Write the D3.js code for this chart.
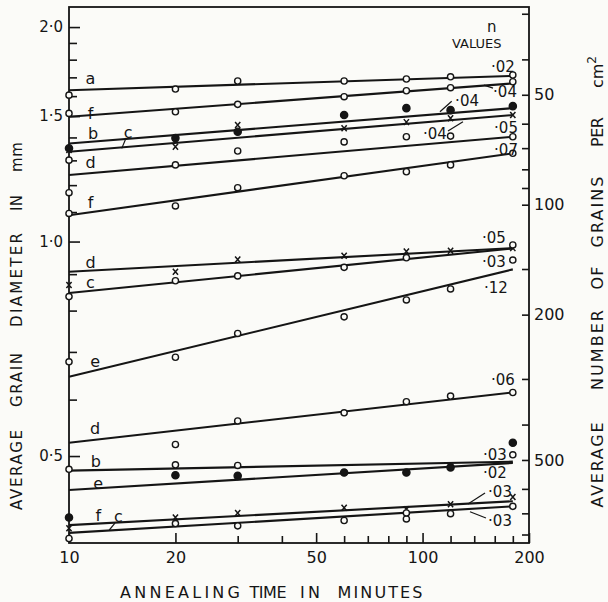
<!DOCTYPE html>
<html>
<head>
<meta charset="utf-8">
<script src="https://cdn.jsdelivr.net/npm/d3@7"></script>
<style>
  html, body { margin: 0; padding: 0; background: #fbfbf8; }
  svg { display: block; }
  text { font-family: 'DejaVu Sans', sans-serif; fill: #151515; }
</style>
</head>
<body>
<div id="viz"></div>
<script>
'use strict';

// Measured grain diameters, [annealing time (min), diameter (mm)]
const ptsA  = [[10, 1.605], [20, 1.637], [30, 1.680], [60, 1.680], [90, 1.691], [120, 1.703], [180, 1.713]];
const ptsF1 = [[10, 1.513], [20, 1.521], [30, 1.558], [60, 1.597], [90, 1.628], [120, 1.644], [180, 1.676]];
const ptsB1 = [[10, 1.352], [20, 1.397], [30, 1.426], [60, 1.505], [90, 1.539], [120, 1.529], [180, 1.549]];
const ptsC1 = [[10, 1.344], [20, 1.358], [30, 1.457], [60, 1.442], [90, 1.471], [120, 1.490], [180, 1.505]];
const ptsD1 = [[10, 1.301], [20, 1.281], [30, 1.340], [60, 1.380], [90, 1.403], [120, 1.406], [180, 1.403]];
const ptsF2 = [[10, 1.171], [10, 1.095], [20, 1.122], [30, 1.190], [60, 1.237], [90, 1.253], [120, 1.281], [180, 1.330]];
const ptsD2 = [[10, 0.869], [20, 0.907], [30, 0.944], [60, 0.955], [90, 0.968], [120, 0.971], [180, 0.979]];
const ptsC2 = [[10, 0.837], [20, 0.881], [30, 0.895], [60, 0.920], [90, 0.949], [180, 0.989]];
const ptsE1 = [[10, 0.678], [20, 0.688], [30, 0.743], [60, 0.784], [90, 0.828], [120, 0.858], [180, 0.942]];
const ptsD3 = [[20, 0.519], [30, 0.560], [60, 0.575], [90, 0.596], [120, 0.607], [180, 0.614]];
const ptsB2 = [[10, 0.479], [20, 0.486], [30, 0.485], [180, 0.502]];
const ptsE2 = [[10, 0.410], [20, 0.470], [30, 0.469], [60, 0.474], [90, 0.474], [120, 0.482], [180, 0.522]];
const ptsF3 = [[10, 0.396], [20, 0.410], [30, 0.416], [60, 0.423], [90, 0.421], [120, 0.428], [180, 0.438]];
const ptsC3 = [[10, 0.383], [20, 0.402], [30, 0.399], [60, 0.406], [90, 0.408], [90, 0.416], [120, 0.415], [180, 0.425]];

const allPts = [ptsA, ptsF1, ptsB1, ptsC1, ptsD1, ptsF2, ptsD2, ptsC2, ptsE1, ptsD3, ptsB2, ptsE2, ptsF3, ptsC3];
const markKind = ['open', 'open', 'filled', 'cross', 'open', 'open', 'cross', 'open', 'open', 'open', 'open', 'filled', 'cross', 'open'];

// fitted straight lines (log-log), diameter at 10 and 180 min
const fitAt10  = [1.631, 1.497, 1.373, 1.337, 1.240, 1.089, 0.907, 0.847, 0.646, 0.522, 0.477, 0.448, 0.400, 0.390];
const fitAt180 = [1.708, 1.667, 1.539, 1.505, 1.403, 1.330, 0.979, 0.978, 0.914, 0.614, 0.491, 0.489, 0.432, 0.425];

// curve letters near the left axis
const letterText = ['a', 'f', 'b', 'c', 'd', 'f', 'd', 'c', 'e', 'd', 'b', 'e', 'f', 'c'];
const letterT = [11.5, 11.5, 11.7, 14.7, 11.5, 11.5, 11.5, 11.5, 11.85, 11.85, 11.9, 12.1, 12.1, 13.8];
const letterD = [1.696, 1.5145, 1.4199, 1.4257, 1.2927, 1.1362, 0.936, 0.8774, 0.6796, 0.5473, 0.492, 0.4583, 0.4133, 0.412];

// n values near the right axis
const nText = ['·02', '·04', '·04', '·04', '·05', '·07', '·05', '·03', '·12', '·06', '·03', '·02', '·03', '·03'];
const nT = [168.8, 171.1, 133.6, 108.4, 172.2, 172.2, 159.2, 159.2, 161.3, 168.8, 160.2, 160.2, 165.6, 165.6];
const nD = [1.759, 1.626, 1.5794, 1.4186, 1.4432, 1.3439, 1.0114, 0.936, 0.8604, 0.6393, 0.5017, 0.4733, 0.4451, 0.4054];
const headText = ['n', 'VALUES'];
const headT = [156.9, 142.3];
const headD = [2.001, 1.897];

// leader strokes [t1, d1, t2, d2]
const leaders = [
  [14.5, 1.397, 14.1, 1.3513],
  [13.49, 0.4024, 13.0, 0.3937],
  [158.2, 1.642, 149.2, 1.658],
  [120.9, 1.5737, 112.0, 1.5209],
  [118.0, 1.4292, 130.1, 1.4729],
  [150.2, 0.4437, 134.4, 0.4282],
  [151.1, 0.4093, 136.2, 0.4177]
];

// axes
const xTicksMajor = [10, 20, 50, 100, 200];
const xTicksMinor = [30, 40, 60, 70, 80, 90, 120, 140, 160, 180];
const yTicksMajor = [0.5, 1.0, 1.5, 2.0];
const yTicksMinor = [0.6, 0.7, 0.8, 0.9, 1.1, 1.2, 1.3, 1.4, 1.6, 1.7, 1.8, 1.9];
const gTicksMajor = [50, 100, 200, 500];
const gTicksMinor = [30, 40, 60, 70, 80, 90, 150, 300, 400, 600, 700, 800];

const ink = '#151515';
const bg = '#fbfbf8';

const svg = d3.select('#viz')
  .append('svg')
    .attr('width', 608)
    .attr('height', 602);

const x = d3.scaleLog().domain([10, 200]).range([69, 529]);
const y = d3.scaleLog().domain([0.3775, 2.134]).range([543, 7]);
const yGrains = d3.scaleLog().domain([844, 28.75]).range([543, 7]);

function styleAxis(g, majors, majorLen, minorLen, sign, horiz) {
  g.select('.domain').remove();
  g.selectAll('.tick line')
    .attr('stroke', ink)
    .attr('stroke-width', 1.6)
    .attr(horiz ? 'y2' : 'x2', d => sign * (majors.includes(d) ? majorLen : minorLen));
  g.selectAll('.tick text')
    .attr('font-family', "'DejaVu Sans', sans-serif")
    .attr('fill', ink);
}

const fmtDot = d => d3.format('.1f')(d).replace('.', '·');

// left axis, grain diameter
const gLeft = svg.append('g')
  .attr('transform', 'translate(69,0)')
  .call(d3.axisLeft(y)
    .tickValues(yTicksMajor.concat(yTicksMinor))
    .tickSize(-7).tickSizeOuter(0).tickPadding(6)
    .tickFormat(d => yTicksMajor.includes(d) ? fmtDot(d) : ''));
styleAxis(gLeft, yTicksMajor, 11, 8, 1, false);
gLeft.selectAll('.tick text').attr('font-size', 15);

// bottom axis, annealing time
const gBottom = svg.append('g')
  .attr('transform', 'translate(0,543)')
  .call(d3.axisBottom(x)
    .tickValues(xTicksMajor.concat(xTicksMinor))
    .tickSize(-6).tickSizeOuter(0).tickPadding(9)
    .tickFormat(d => xTicksMajor.includes(d) ? String(d) : ''));
styleAxis(gBottom, xTicksMajor, -10, -7, 1, true);
gBottom.selectAll('.tick text').attr('font-size', 16);

// right axis, number of grains
const gRight = svg.append('g')
  .attr('transform', 'translate(529,0)')
  .call(d3.axisRight(yGrains)
    .tickValues(gTicksMajor.concat(gTicksMinor))
    .tickSize(-7).tickSizeOuter(0).tickPadding(5)
    .tickFormat(d => gTicksMajor.includes(d) ? String(d) : ''));
styleAxis(gRight, gTicksMajor, -7, -7, 1, false);
gRight.selectAll('.tick text').attr('font-size', 16);

// frame
svg.append('rect')
  .attr('x', x.range()[0])
  .attr('y', y.range()[1])
  .attr('width', x.range()[1] - x.range()[0])
  .attr('height', y.range()[0] - y.range()[1])
  .attr('fill', 'none')
  .attr('stroke', ink)
  .attr('stroke-width', 1.8);

// fitted lines
const line = d3.line().x(d => x(d[0])).y(d => y(d[1]));
svg.append('g')
  .selectAll('path')
  .data(fitAt10.map((v, i) => [[10, v], [180, fitAt180[i]]]))
  .join('path')
    .attr('d', line)
    .attr('fill', 'none')
    .attr('stroke', ink)
    .attr('stroke-width', 2.1);

// leaders
svg.append('g')
  .selectAll('line')
  .data(leaders)
  .join('line')
    .attr('x1', d => x(d[0]))
    .attr('y1', d => y(d[1]))
    .attr('x2', d => x(d[2]))
    .attr('y2', d => y(d[3]))
    .attr('stroke', ink)
    .attr('stroke-width', 1.2);

// data points
allPts.forEach((pts, i) => {
  const kind = markKind[i];
  const g = svg.append('g');
  if (kind === 'cross') {
    g.selectAll('path')
      .data(pts)
      .join('path')
        .attr('transform', d => `translate(${x(d[0])},${y(d[1])})`)
        .attr('d', 'M-2.6,-3L2.6,3M-2.6,3L2.6,-3')
        .attr('stroke', ink)
        .attr('stroke-width', 1.5);
  } else {
    g.selectAll('circle')
      .data(pts)
      .join('circle')
        .attr('cx', d => x(d[0]))
        .attr('cy', d => y(d[1]))
        .attr('r', kind === 'filled' ? 3.6 : 3.1)
        .attr('fill', kind === 'filled' ? ink : bg)
        .attr('stroke', ink)
        .attr('stroke-width', 1.4);
  }
});

// curve letters
svg.append('g')
  .selectAll('text')
  .data(letterText)
  .join('text')
    .attr('x', (d, i) => x(letterT[i]))
    .attr('y', (d, i) => y(letterD[i]))
    .attr('dy', '0.36em')
    .attr('text-anchor', 'middle')
    .attr('font-size', 16)
    .text(d => d);

// n values
svg.append('g')
  .selectAll('text')
  .data(nText)
  .join('text')
    .attr('x', (d, i) => x(nT[i]))
    .attr('y', (d, i) => y(nD[i]))
    .attr('dy', '0.36em')
    .attr('text-anchor', 'middle')
    .attr('font-size', 15)
    .text(d => d);

svg.append('g')
  .selectAll('text')
  .data(headText)
  .join('text')
    .attr('x', (d, i) => x(headT[i]))
    .attr('y', (d, i) => y(headD[i]))
    .attr('dy', '0.36em')
    .attr('text-anchor', 'middle')
    .attr('font-size', (d, i) => i === 0 ? 15 : 13)
    .text(d => d);

// axis titles, word by word as lettered on the original
function word(txt, cx, cy, len, rot, size) {
  svg.append('text')
    .attr('transform', `translate(${cx},${cy}) rotate(${rot})`)
    .attr('text-anchor', 'middle')
    .attr('dy', '0.36em')
    .attr('font-size', size || 16)
    .attr('textLength', len)
    .attr('lengthAdjust', 'spacing')
    .text(txt);
}

word('AVERAGE', 17, 470, 80, -90, 15);
word('GRAIN', 17, 380, 54, -90, 15);
word('DIAMETER', 17, 280, 94, -90, 15);
word('IN', 17, 203, 16, -90, 15);
word('mm', 17, 157, 30, -90, 15);

word('AVERAGE', 597, 465, 85, -90);
word('NUMBER', 597, 350, 80, -90);
word('OF', 597, 278, 23, -90);
word('GRAINS', 597, 212, 71, -90);
word('PER', 597, 132, 30, -90);
const cm = svg.append('text')
  .attr('transform', 'translate(597,72) rotate(-90)')
  .attr('text-anchor', 'middle')
  .attr('dy', '0.36em')
  .attr('font-size', 16);
cm.append('tspan').text('cm');
cm.append('tspan').attr('dy', '-0.55em').attr('font-size', 12).text('2');

word('ANNEALING', 180, 592, 120, 0);
word('TIME', 268, 592, 37, 0);
word('IN', 310, 592, 20, 0);
word('MINUTES', 380, 592, 85, 0);
</script>
</body>
</html>
